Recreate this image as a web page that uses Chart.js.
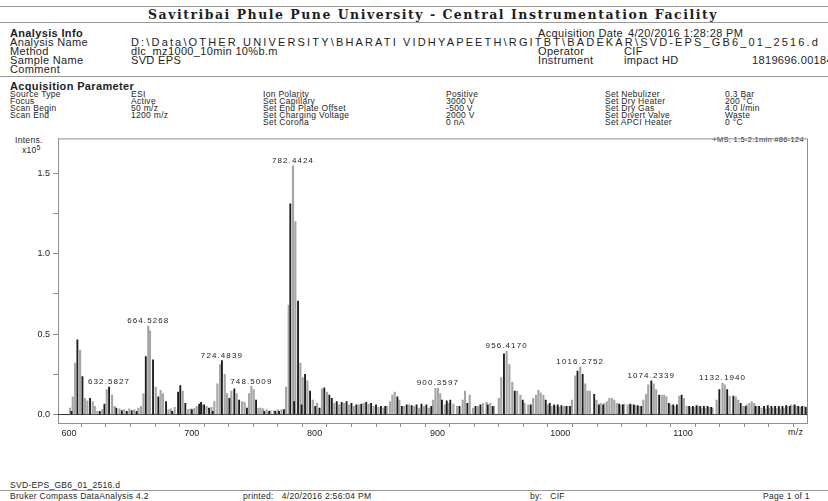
<!DOCTYPE html>
<html>
<head>
<meta charset="utf-8">
<script src="https://cdn.jsdelivr.net/npm/chart.js@4"></script>
<style>
  body { margin: 0; width: 828px; height: 501px; background: #fff; position: relative; overflow: hidden;
         font-family: "Liberation Sans", Arial, sans-serif; color: #1e1e1e; }
  .t { position: absolute; white-space: nowrap; line-height: 10px; font-size: 11px; letter-spacing: 0.35px; }
  .s { position: absolute; white-space: nowrap; line-height: 7px; font-size: 8.5px; letter-spacing: 0.3px; }
  .b { font-weight: bold; }
  .rule { position: absolute; left: 0; width: 828px; height: 0; border-top: 1px solid #999; }
  #title { position: absolute; left: 148px; top: 7px; font-family: "DejaVu Serif", serif; font-weight: bold;
           font-size: 12.5px; white-space: nowrap; }
  #spec { position: absolute; left: 0; top: 130px; }
</style>
</head>
<body>
<div class="rule" style="top:6px"></div>
<div id="title" data-w="570">Savitribai Phule Pune University - Central Instrumentation Facility</div>
<div class="rule" style="top:22px"></div>

<div class="t b" style="left:10px;top:28px">Analysis Info</div>
<div class="t" style="left:538px;top:28px">Acquisition Date</div>
<div class="t" style="left:628px;top:28px">4/20/2016 1:28:28 PM</div>
<div class="t" style="left:10px;top:37px">Analysis Name</div>
<div class="t" style="left:131px;top:37px" data-w="689">D:\Data\OTHER UNIVERSITY\BHARATI VIDHYAPEETH\RGITBT\BADEKAR\SVD-EPS_GB6_01_2516.d</div>
<div class="t" style="left:10px;top:46px">Method</div>
<div class="t" style="left:131px;top:46px">dlc_mz1000_10min 10%b.m</div>
<div class="t" style="left:538px;top:46px">Operator</div>
<div class="t" style="left:624px;top:46px">CIF</div>
<div class="t" style="left:10px;top:55px">Sample Name</div>
<div class="t" style="left:131px;top:55px">SVD EPS</div>
<div class="t" style="left:538px;top:55px">Instrument</div>
<div class="t" style="left:624px;top:55px">impact HD</div>
<div class="t" style="left:752px;top:55px">1819696.00184</div>
<div class="t" style="left:10px;top:64px">Comment</div>
<div class="rule" style="top:76px"></div>

<div class="t b" style="left:10px;top:81px">Acquisition Parameter</div>
<div class="s" style="left:10px;top:91px">Source Type<br>Focus<br>Scan Begin<br>Scan End</div>
<div class="s" style="left:131px;top:91px">ESI<br>Active<br>50 m/z<br>1200 m/z</div>
<div class="s" style="left:263px;top:91px">Ion Polarity<br>Set Capillary<br>Set End Plate Offset<br>Set Charging Voltage<br>Set Corona</div>
<div class="s" style="left:446px;top:91px">Positive<br>3000 V<br>-500 V<br>2000 V<br>0 nA</div>
<div class="s" style="left:605px;top:91px">Set Nebulizer<br>Set Dry Heater<br>Set Dry Gas<br>Set Divert Valve<br>Set APCI Heater</div>
<div class="s" style="left:725px;top:91px">0.3 Bar<br>200 °C<br>4.0 l/min<br>Waste<br>0 °C</div>

<div class="s" style="left:15px;top:137px;font-size:8.5px">Intens.</div>
<div class="s" style="left:22px;top:144px;font-size:8.5px">x10<sup style="font-size:7px;vertical-align:3px">5</sup></div>
<div class="s" style="right:24px;top:136px;font-size:7.5px">+MS, 1.5-2.1min #86-124</div>
<div class="s" style="left:788px;top:429px;font-size:9px">m/z</div>

<canvas id="spec" width="828" height="313"></canvas>

<div class="s" style="left:10px;top:482px">SVD-EPS_GB6_01_2516.d</div>
<div class="rule" style="top:490px"></div>
<div class="s" style="left:10px;top:493px">Bruker Compass DataAnalysis 4.2</div>
<div class="s" style="left:243px;top:493px">printed:&nbsp;&nbsp; 4/20/2016 2:56:04 PM</div>
<div class="s" style="left:530px;top:493px">by:&nbsp;&nbsp; CIF</div>
<div class="s" style="left:763px;top:493px">Page 1 of 1</div>

<script>
// peaks: [m/z, intensity x10^5]
const grayPeaks = [
  [600.8,0.04],[603,0.11],[604.9,0.32],[609,0.40],[613,0.10],[614.9,0.085],[619.3,0.08],[621,0.05],
  [623,0.02],[627,0.03],[630.7,0.155],[635,0.12],[637,0.05],[641,0.035],[645,0.03],[649,0.035],
  [653,0.03],[656.5,0.04],[658.6,0.05],[660.6,0.13],[664.5,0.55],[665.9,0.52],[670.6,0.17],[674.6,0.15],
  [676.5,0.13],[681,0.03],[683,0.035],[686,0.045],[692.6,0.145],[697,0.03],[699,0.035],[702,0.04],
  [704,0.05],[708.5,0.06],[712,0.05],[716,0.045],[718.3,0.08],[720.8,0.19],[723,0.31],[726.8,0.25],
  [728.7,0.13],[732.2,0.145],[736.5,0.13],[740.9,0.08],[743,0.075],[746.6,0.13],[748.5,0.175],[750.4,0.155],
  [754.2,0.04],[756,0.04],[758,0.035],[761,0.03],[764,0.025],[767,0.025],[770,0.03],[773,0.03],
  [776.7,0.17],[778.9,0.68],[782.4,1.547],[784.3,1.20],[788.4,0.32],[790.3,0.23],[794.1,0.21],[798.5,0.09],
  [802,0.07],[806,0.16],[810.1,0.14],[816,0.07],[820,0.06],[824,0.07],[828,0.06],[832,0.05],
  [836,0.06],[840,0.07],[844,0.065],[848,0.05],[852,0.045],[856,0.04],[859,0.05],[861.4,0.08],
  [863.3,0.12],[865.2,0.14],[869,0.09],[873,0.05],[877,0.06],[881,0.05],[885,0.04],[889,0.05],
  [893,0.04],[896.5,0.09],[898.4,0.163],[900.4,0.163],[902.3,0.13],[906,0.06],[909,0.07],[913,0.065],
  [916,0.05],[920.6,0.09],[922.5,0.145],[926.3,0.12],[929,0.04],[933,0.05],[937,0.07],[940,0.075],
  [943,0.07],[946,0.05],[950,0.10],[952,0.23],[956.4,0.394],[958.6,0.31],[961,0.20],[965,0.145],
  [967.6,0.12],[971,0.07],[974,0.06],[978,0.10],[980.3,0.12],[982.2,0.15],[984.1,0.135],[986.3,0.12],
  [990,0.06],[993,0.05],[996,0.05],[999,0.045],[1003,0.05],[1006,0.05],[1009.6,0.09],[1012.2,0.24],
  [1016.3,0.296],[1020.4,0.19],[1022.3,0.145],[1024.2,0.145],[1029.6,0.09],[1033,0.07],[1036,0.07],[1038,0.08],
  [1040,0.10],[1042,0.10],[1044,0.09],[1046,0.07],[1049,0.06],[1052,0.065],[1055,0.06],[1058,0.06],
  [1061,0.055],[1064,0.05],[1067.7,0.09],[1069.9,0.125],[1071.7,0.185],[1076.2,0.19],[1078.2,0.155],[1082.7,0.12],
  [1084.7,0.12],[1086.5,0.11],[1090,0.06],[1093,0.05],[1097,0.115],[1100.8,0.10],[1103,0.05],[1106,0.045],
  [1109,0.045],[1112,0.05],[1115,0.04],[1118,0.04],[1121,0.045],[1124,0.04],[1127.4,0.09],[1132.2,0.195],
  [1134,0.185],[1138,0.115],[1143,0.11],[1145,0.09],[1149,0.05],[1152,0.06],[1154,0.07],[1156,0.08],
  [1158,0.07],[1160,0.05],[1164,0.04],[1167,0.035],[1170,0.04],[1173,0.04],[1176,0.04],[1179,0.035],
  [1182,0.04],[1185,0.05],[1188,0.06],[1190,0.055],[1193,0.05],[1196,0.045],[1199,0.05]
];
const blackPeaks = [
  [602,0.02],[606.8,0.465],[610.9,0.235],[617.1,0.10],[625,0.02],[628.8,0.065],[632.6,0.17],[638.5,0.04],
  [643,0.025],[647,0.02],[651,0.025],[655,0.02],[662.5,0.36],[668.4,0.34],[672.7,0.11],[679,0.08],
  [684,0.02],[688.8,0.14],[690.6,0.18],[694.7,0.07],[700,0.03],[706,0.065],[707.5,0.075],[710,0.06],
  [714,0.04],[717,0.02],[724.5,0.335],[730.6,0.10],[734.6,0.16],[738.5,0.09],[744.9,0.04],[752.3,0.09],
  [759,0.02],[763,0.02],[768,0.02],[771,0.02],[775,0.03],[780.2,1.31],[783.3,0.08],[786.5,0.705],
  [789.4,0.06],[792.2,0.25],[796.3,0.145],[800.5,0.05],[804,0.04],[807.9,0.165],[812,0.12],[814,0.10],
  [818,0.08],[822,0.075],[826,0.08],[830,0.07],[834,0.06],[838,0.065],[842,0.075],[846,0.07],
  [850,0.06],[854,0.05],[857.5,0.05],[867.4,0.11],[871,0.05],[875,0.06],[879,0.055],[883,0.06],
  [887,0.065],[891,0.06],[895,0.05],[903.7,0.09],[907.6,0.085],[910.5,0.09],[918,0.05],[924.4,0.07],
  [931,0.05],[935,0.06],[941,0.06],[945,0.05],[954.2,0.377],[963,0.145],[969.5,0.09],[976,0.06],
  [988.2,0.09],[991.5,0.07],[995,0.06],[998,0.06],[1001,0.055],[1005,0.05],[1008,0.05],[1014.1,0.27],
  [1018.3,0.25],[1027.7,0.125],[1031.5,0.06],[1035,0.06],[1048,0.065],[1051,0.06],[1057,0.065],[1060,0.06],
  [1063,0.055],[1066,0.05],[1074.2,0.21],[1080.6,0.12],[1088.5,0.07],[1092,0.06],[1095,0.06],[1098.9,0.12],
  [1105,0.05],[1108,0.05],[1111,0.055],[1114,0.05],[1117,0.05],[1120,0.05],[1123,0.045],[1129.6,0.155],
  [1136,0.155],[1141,0.115],[1147,0.07],[1151,0.05],[1159,0.05],[1162,0.05],[1166,0.05],[1169,0.055],
  [1172,0.05],[1175,0.05],[1178,0.05],[1181,0.05],[1184,0.055],[1187,0.05],[1191,0.06],[1194,0.05],
  [1197,0.05],[1200,0.045]
];

const peakLabels   = ['632.5827','664.5268','724.4839','748.5009','782.4424','900.3597','956.4170','1016.2752','1074.2339','1132.1940'];
const peakLabelMz  = [632.6, 664.5, 724.5, 748.5, 782.4, 900.4, 956.4, 1016.3, 1074.2, 1132.2];
const peakLabelInt = [0.17, 0.55, 0.335, 0.175, 1.547, 0.163, 0.394, 0.296, 0.21, 0.195];

const xTickValues = [600,620,640,660,680,700,720,740,760,780,800,820,840,860,880,900,920,940,960,980,
                     1000,1020,1040,1060,1080,1100,1120,1140,1160,1180,1200];
const xTickLabels = {600:'600', 700:'700', 800:'800', 900:'900', 1000:'1000', 1100:'1100'};
const yTickValues = [0, 0.25, 0.5, 0.75, 1.0, 1.25, 1.5];
const yTickLabels = {0:'0.0', 0.5:'0.5', 1:'1.0', 1.5:'1.5'};

// stretch a few long text lines to the width they have in the printout
document.querySelectorAll('[data-w]').forEach(el => {
  const w = el.getBoundingClientRect().width;
  const n = el.textContent.length;
  const cur = parseFloat(getComputedStyle(el).letterSpacing) || 0;
  el.style.letterSpacing = (cur + (parseFloat(el.dataset.w) - w) / n) + 'px';
});

const boxPlugin = {
  id: 'box',
  afterDraw(chart) {
    const a = chart.chartArea, c = chart.ctx;
    const xs = chart.scales.x, ys = chart.scales.y;
    c.save();
    c.strokeStyle = '#8e8e8e';
    c.lineWidth = 1;
    c.beginPath();
    c.moveTo(a.left, a.top + 0.5);
    c.lineTo(a.right + 0.5, a.top + 0.5);
    c.lineTo(a.right + 0.5, a.bottom);
    c.stroke();
    c.fillStyle = '#222';
    c.font = '8px "Liberation Sans"';
    c.letterSpacing = '1.1px';
    c.textAlign = 'center';
    c.textBaseline = 'bottom';
    peakLabels.forEach((t, i) => {
      c.fillText(t, xs.getPixelForValue(peakLabelMz[i]), ys.getPixelForValue(peakLabelInt[i]) - 1);
    });
    c.restore();
  }
};

const ctx = document.getElementById('spec').getContext('2d');
window.spec = new Chart(ctx, {
  type: 'bar',
  data: {
    datasets: [
      { data: blackPeaks.map(p => ({x: p[0], y: p[1]})), backgroundColor: '#1c1c1c', barThickness: 1.2, grouped: false },
      { data: grayPeaks.map(p => ({x: p[0], y: p[1]})), backgroundColor: '#a6a6a6', barThickness: 1.5, grouped: false },
      { type: 'line', data: [{x: 591, y: 0}, {x: 1201, y: 0}], borderColor: '#333', borderWidth: 1, pointRadius: 0 }
    ]
  },
  options: {
    responsive: false,
    animation: false,
    events: [],
    layout: { padding: { top: 4, right: 21, left: 0, bottom: 0 } },
    plugins: { legend: { display: false }, tooltip: { enabled: false } },
    scales: {
      x: {
        type: 'linear', min: 591, max: 1201, offset: false,
        afterBuildTicks: s => { s.ticks = xTickValues.map(v => ({value: v})); },
        afterFit: s => { s.height = 20; },
        ticks: { autoSkip: false, maxRotation: 0, padding: 1, color: '#222',
                 font: { family: 'Liberation Sans', size: 9 },
                 callback: v => xTickLabels[v] || '' },
        grid: { drawOnChartArea: false, tickLength: 4, color: '#8e8e8e' },
        border: { color: '#8e8e8e' }
      },
      y: {
        min: -0.053, max: 1.717,
        afterBuildTicks: s => { s.ticks = yTickValues.map(v => ({value: v})); },
        afterFit: s => { s.width = 58; },
        ticks: { autoSkip: false, padding: 3, color: '#222',
                 font: { family: 'Liberation Sans', size: 9 },
                 callback: v => yTickLabels[v] || '' },
        grid: { drawOnChartArea: false, tickLength: 5, color: '#8e8e8e' },
        border: { color: '#8e8e8e' }
      }
    }
  },
  plugins: [boxPlugin]
});
</script>
</body>
</html>
